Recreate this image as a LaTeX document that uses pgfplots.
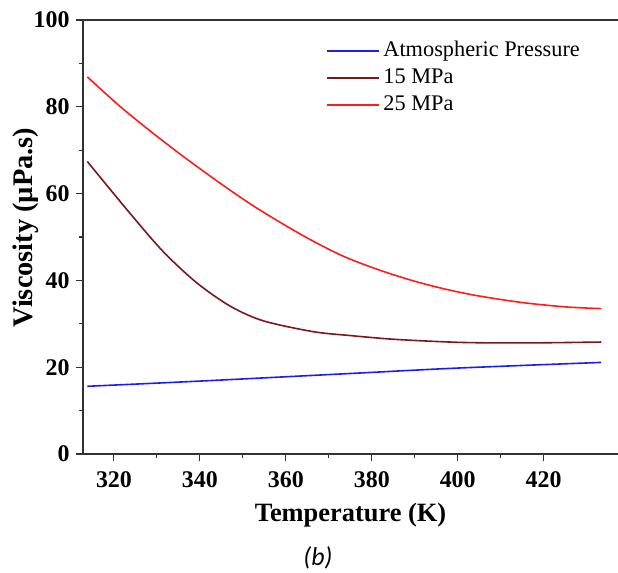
\documentclass[border=0pt]{standalone}
\usepackage{pgfplots}
\pgfplotsset{compat=1.18}
\usepackage{fontspec}
\setmainfont{Liberation Serif}
\newfontfamily\calibri{Carlito}
\definecolor{cblue}{RGB}{30,30,235}
\definecolor{cdark}{RGB}{120,25,30}
\definecolor{cred}{RGB}{250,30,30}
\definecolor{axgray}{RGB}{50,50,50}
\begin{document}
\begin{tikzpicture}
\begin{axis}[
  scale only axis,
  width=535bp, height=434bp,
  xmin=312.8, xmax=437.3,
  ymin=0, ymax=100,
  axis x line=box, axis y line=left,
  axis line style={axgray, line width=1.2bp, -},
  xtick={320,340,...,420},
  ytick={0,20,...,100},
  minor x tick num=1, minor y tick num=1,
  xtick pos=bottom, ytick pos=left,
  tick align=outside,
  major tick length=7bp, minor tick length=4bp,
  every tick/.style={axgray, line width=1.1bp},
  /pgf/number format/assume math mode=true,
  tick label style={font=\fontsize{24}{27}\selectfont\bfseries, black},
  xticklabel style={yshift=-7bp},
  yticklabel style={xshift=-3bp},
  xlabel={Temperature (K)},
  ylabel={Viscosity (\textmu Pa.s)},
  xlabel style={font=\fontsize{26.5}{30}\selectfont\bfseries, at={(axis description cs:0.5,0)}, anchor=base, yshift=-67bp},
  ylabel style={font=\fontsize{28.5}{32}\selectfont\bfseries, at={(axis description cs:-0.0935,0.522)}, anchor=base},
  legend style={draw=none, fill=none, at={(rel axis cs:0.4535,0.960)}, anchor=north west,
    font=\fontsize{22.4}{25}\selectfont, row sep=0bp, inner sep=0bp,
    nodes={inner sep=2bp, text height=17bp, text depth=6bp}},
  legend cell align=left,
  legend image code/.code={\draw[#1] (0bp,0bp) -- (52bp,0bp);},
]
\addplot[cblue, line width=1.6bp, smooth] coordinates {
(313.8,15.6)(340,16.8)(374,18.5)(400,19.8)(433.4,21.1)};
\addlegendentry{\hspace{2bp}Atmospheric Pressure}
\addplot[cdark, line width=1.6bp, smooth] coordinates {
(313.8,67.4)(323.7,55.5)(331.5,46.6)(339.2,39.5)(347,34.1)(354.7,30.7)(366.3,28.2)(374.9,27.3)(385.7,26.4)(401.2,25.7)(416.7,25.6)(433.4,25.8)};
\addlegendentry{\hspace{2bp}15 MPa}
\addplot[cred, line width=1.6bp, smooth] coordinates {
(313.8,86.9)(321.4,80.1)(329.1,73.9)(336.9,68.0)(344.7,62.4)(352.4,57.2)(360,52.6)(367,48.7)(374,45.3)(382,42.3)(390,39.8)(397.5,37.9)(405,36.4)(415,34.9)(425,33.9)(433.4,33.5)};
\addlegendentry{\hspace{2bp}25 MPa}
\coordinate (bl) at (rel axis cs:0,0);
\coordinate (tr) at (rel axis cs:1,1);
\end{axis}
\node[font=\calibri\itshape\fontsize{26}{30}\selectfont] at ([shift={(235bp,-104bp)}]bl) {(b)};
\pgfresetboundingbox
\path ([shift={(-83bp,-119bp)}]bl) rectangle ([shift={(0bp,20bp)}]tr);
\end{tikzpicture}
\end{document}
